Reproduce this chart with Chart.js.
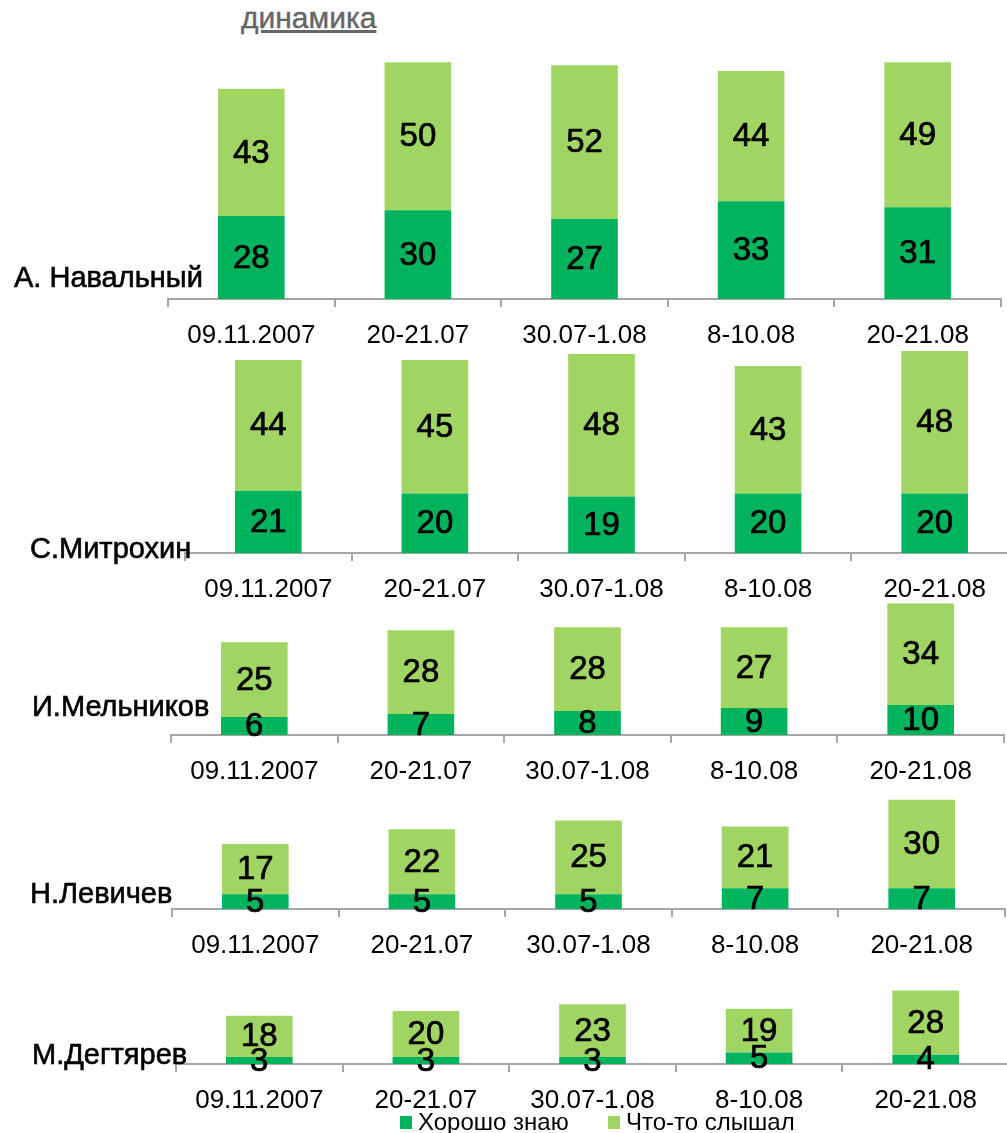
<!DOCTYPE html>
<html>
<head>
<meta charset="utf-8">
<script src="https://cdn.jsdelivr.net/npm/chart.js@4.4.0/dist/chart.umd.min.js"></script>
<style>
  body { margin: 0; width: 1007px; height: 1133px; overflow: hidden; background: #fff;
         position: relative; font-family: "Liberation Sans", Arial, sans-serif; }
  canvas { position: absolute; left: 0; }
  .name { position: absolute; font-size: 29px; line-height: 1; color: #000; white-space: nowrap;
          -webkit-text-stroke: 0.6px #000; }
  .title { position: absolute; left: 241px; top: 3px; font-size: 30px; color: #666;
           text-decoration: underline; line-height: 1; -webkit-text-stroke: 0.4px #666; }
  .leg { position: absolute; top: 1110px; font-size: 24px; line-height: 1; color: #000; white-space: nowrap; }
  .sw { display: inline-block; width: 12px; height: 13px; margin-right: 6px; vertical-align: 1px; }
</style>
</head>
<body>
<div class="title">динамика</div>

<script>
const categories = ["09.11.2007", "20-21.07", "30.07-1.08", "8-10.08", "20-21.08"];
const people = ["А. Навальный", "С.Митрохин", "И.Мельников", "Н.Левичев", "М.Дегтярев"];
const seriesNames = ["Хорошо знаю", "Что-то слышал"];

const navalnyKnow = [28, 30, 27, 33, 31];
const navalnyHeard = [43, 50, 52, 44, 49];
const mitrokhinKnow = [21, 20, 19, 20, 20];
const mitrokhinHeard = [44, 45, 48, 43, 48];
const melnikovKnow = [6, 7, 8, 9, 10];
const melnikovHeard = [25, 28, 28, 27, 34];
const levichevKnow = [5, 5, 5, 7, 7];
const levichevHeard = [17, 22, 25, 21, 30];
const degtyarevKnow = [3, 3, 3, 5, 4];
const degtyarevHeard = [18, 20, 23, 19, 28];

const knowColor = "#00b35c";
const heardColor = "#a1d563";
const axisColor = "#a6a6a6";

// layout of each panel: where the axis line sits, where it starts, px per unit
const panels = [
  { know: navalnyKnow, heard: navalnyHeard, axisY: 299, xStart: 168, ppu: 2.96, plotH: 245, nameLeft: 14, nameTop: 263 },
  { know: mitrokhinKnow, heard: mitrokhinHeard, axisY: 553, xStart: 185, ppu: 2.97, plotH: 210, nameLeft: 30, nameTop: 534 },
  { know: melnikovKnow, heard: melnikovHeard, axisY: 735, xStart: 171, ppu: 2.99, plotH: 140, nameLeft: 32, nameTop: 692 },
  { know: levichevKnow, heard: levichevHeard, axisY: 909, xStart: 172, ppu: 2.95, plotH: 120, nameLeft: 30, nameTop: 879 },
  { know: degtyarevKnow, heard: degtyarevHeard, axisY: 1064, xStart: 176, ppu: 2.3, plotH: 80, nameLeft: 32, nameTop: 1040 }
];

const catW = 166.6;
const canvasW = 1040;
const axisH = 52;

const valueLabels = {
  id: "valueLabels",
  afterDatasetsDraw(chart) {
    const ctx = chart.ctx;
    ctx.save();
    ctx.font = "33px 'Liberation Sans', Arial, sans-serif";
    ctx.fillStyle = "#000";
    ctx.strokeStyle = "#000";
    ctx.lineWidth = 0.7;
    ctx.textAlign = "center";
    ctx.textBaseline = "middle";
    chart.data.datasets.forEach((ds, i) => {
      chart.getDatasetMeta(i).data.forEach((bar, j) => {
        const y = (bar.y + bar.base) / 2 + 1;
        ctx.fillText(ds.data[j], bar.x, y);
        ctx.strokeText(ds.data[j], bar.x, y);
      });
    });
    ctx.restore();
  }
};

panels.forEach((p, idx) => {
  const canvas = document.createElement("canvas");
  canvas.width = canvasW;
  canvas.height = p.plotH + axisH;
  canvas.style.top = (p.axisY - p.plotH) + "px";
  canvas.style.width = canvasW + "px";
  canvas.style.height = (p.plotH + axisH) + "px";
  document.body.appendChild(canvas);

  const name = document.createElement("div");
  name.className = "name";
  name.textContent = people[idx];
  name.style.left = p.nameLeft + "px";
  name.style.top = p.nameTop + "px";
  document.body.appendChild(name);

  new Chart(canvas, {
    type: "bar",
    data: {
      labels: categories,
      datasets: [
        { label: seriesNames[0], data: p.know, backgroundColor: knowColor },
        { label: seriesNames[1], data: p.heard, backgroundColor: heardColor }
      ]
    },
    options: {
      responsive: false,
      animation: false,
      devicePixelRatio: 1,
      layout: { padding: { left: p.xStart, right: canvasW - p.xStart - 5 * catW, top: 0, bottom: 0 } },
      datasets: { bar: { categoryPercentage: 1, barPercentage: 0.4 } },
      plugins: { legend: { display: false }, tooltip: { enabled: false } },
      scales: {
        x: {
          stacked: true,
          afterFit(scale) { scale.height = axisH; },
          grid: { drawOnChartArea: false, drawTicks: true, tickLength: 8, color: axisColor, lineWidth: 2 },
          border: { color: axisColor, width: 2 },
          ticks: { color: "#000", padding: 13, maxRotation: 0, autoSkip: false,
                   font: { family: "'Liberation Sans', Arial, sans-serif", size: 26 } }
        },
        y: { stacked: true, display: false, min: 0, max: p.plotH / p.ppu }
      }
    },
    plugins: [valueLabels]
  });
});

// legend
[[400, knowColor, seriesNames[0]], [608, heardColor, seriesNames[1]]].forEach(([left, color, text]) => {
  const d = document.createElement("div");
  d.className = "leg";
  d.style.left = left + "px";
  d.innerHTML = '<span class="sw" style="background:' + color + '"></span>' + text;
  document.body.appendChild(d);
});
</script>
</body>
</html>
